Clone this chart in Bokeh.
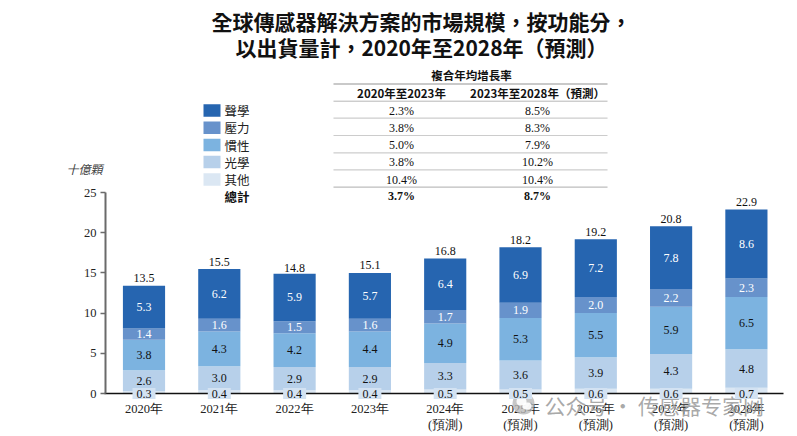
import numpy as np
from bokeh.plotting import figure
from bokeh.models import (ColumnDataSource, Range1d, LabelSet, Label,
                          BoxAnnotation, PolyAnnotation, FixedTicker)
from bokeh.core.properties import value
from bokeh.embed import file_html
from bokeh.resources import INLINE

# ---------------- data ----------------
years = ["2020年", "2021年", "2022年", "2023年", "2024年\n(預測)", "2025年\n(預測)",
         "2026年\n(預測)", "2027年\n(預測)", "2028年\n(預測)"]
acoustic = [5.3, 6.2, 5.9, 5.7, 6.4, 6.9, 7.2, 7.8, 8.6]
pressure = [1.4, 1.6, 1.5, 1.6, 1.7, 1.9, 2.0, 2.2, 2.3]
inertial = [3.8, 4.3, 4.2, 4.4, 4.9, 5.3, 5.5, 5.9, 6.5]
optical = [2.6, 3.0, 2.9, 2.9, 3.3, 3.6, 3.9, 4.3, 4.8]
others = [0.3, 0.4, 0.4, 0.4, 0.5, 0.5, 0.6, 0.6, 0.7]
totals = [13.5, 15.5, 14.8, 15.1, 16.8, 18.2, 19.2, 20.8, 22.9]

series_names = ["聲學", "壓力", "慣性", "光學", "其他"]
series_colors = ["#2665b0", "#6792cb", "#7cb3e0", "#b7d0ea", "#dbe7f3"]
total_name = "總計"

cagr_title = "複合年均增長率"
cagr_headers = ["2020年至2023年", "2023年至2028年（預測）"]
cagr_2020_2023 = ["2.3%", "3.8%", "5.0%", "3.8%", "10.4%"]
cagr_2023_2028 = ["8.5%", "8.3%", "7.9%", "10.2%", "10.4%"]
cagr_total = ["3.7%", "8.7%"]

y_ticks = [0, 5, 10, 15, 20, 25]
y_unit = "十億顆"
title_lines = ["全球傳感器解決方案的市場規模，按功能分，", "以出貨量計，2020年至2028年（預測）"]
watermark = "公众号 · 传感器专家网"

# ---------------- geometry ----------------
W, H = 797, 436
X0_PAGE, PX_PER_X = 143.5, 75.3      # centre of first bar, spacing
Y0_PAGE, PX_PER_Y = 393.0, 8.04      # baseline, pixels per billion


def dx(page_x):
    return (page_x - X0_PAGE) / PX_PER_X


def dy(page_y):
    return (Y0_PAGE - page_y) / PX_PER_Y


p = figure(width=W, height=H, x_range=Range1d(dx(0), dx(W)), y_range=Range1d(dy(H), dy(0)),
           output_backend="svg", toolbar_location=None,
           min_border_left=0, min_border_right=0, min_border_top=0, min_border_bottom=0)
p.outline_line_color = None
p.grid.grid_line_color = None
p.background_fill_color = "white"
p.border_fill_color = "white"

xs = list(range(len(years)))
src = ColumnDataSource(dict(x=xs, acoustic=acoustic, pressure=pressure,
                            inertial=inertial, optical=optical, others=others, totals=totals))
stack_keys = ["others", "optical", "inertial", "pressure", "acoustic"]
stack_colors = [series_colors[4], series_colors[3], series_colors[2], series_colors[1], series_colors[0]]
p.vbar_stack(stack_keys, x="x", width=0.56, color=stack_colors, line_color=None, source=src)

# ---------------- axes ----------------
NUMFONT = "Liberation Serif"
p.yaxis.fixed_location = dx(105)
p.yaxis.bounds = (0, 25)
p.yaxis.ticker = FixedTicker(ticks=y_ticks)
p.yaxis.minor_tick_line_color = None
p.yaxis.major_tick_out = 5
p.yaxis.major_tick_in = 0
p.yaxis.axis_line_color = "#6a6a6a"
p.yaxis.axis_line_width = 2
p.yaxis.major_tick_line_color = "#6a6a6a"
p.yaxis.major_tick_line_width = 1.5
p.yaxis.major_label_text_font = NUMFONT
p.yaxis.major_label_text_font_size = "12.5px"
p.yaxis.major_label_text_color = "#222222"
p.yaxis.major_label_standoff = 4

p.xaxis.fixed_location = 0
p.xaxis.bounds = (dx(104), dx(783))
p.xaxis.ticker = FixedTicker(ticks=xs)
p.xaxis.major_label_overrides = {i: years[i] for i in xs}
p.xaxis.axis_line_color = "#111111"
p.xaxis.axis_line_width = 1.5
p.xaxis.major_tick_line_color = None
p.xaxis.minor_tick_line_color = None
p.xaxis.major_label_text_font = NUMFONT
p.xaxis.major_label_text_font_size = "12.5px"
p.xaxis.major_label_text_color = "#222222"
p.xaxis.major_label_standoff = 2

# ---------------- value labels ----------------
stack_vals = [others, optical, inertial, pressure, acoustic]
text_cols = ["#111111", "#111111", "#111111", "white", "white"]
base = np.zeros(len(years))
for i, vals in enumerate(stack_vals):
    v = np.array(vals)
    if i == 0:
        mid = np.zeros(len(years))
        # light label boxes for the thin "其他" segment, drawn above the axis line
        box = p.rect(x=xs, y=mid, width=23, height=11, width_units="screen",
                     height_units="screen", fill_color="#d3e2f2", line_color=None)
        box.level = "overlay"
    else:
        mid = base + v / 2
    base = base + v
    ls_src = ColumnDataSource(dict(x=xs, y=mid, t=["%.1f" % a for a in vals]))
    lab = LabelSet(x="x", y="y", text="t", source=ls_src, text_align="center",
                   text_baseline="middle", text_font=value(NUMFONT),
                   text_font_size="12px", text_color=text_cols[i])
    if i == 0:
        lab.level = "overlay"
    p.add_layout(lab)

tot_src = ColumnDataSource(dict(x=xs, y=totals, t=["%.1f" % a for a in totals]))
p.add_layout(LabelSet(x="x", y="y", text="t", source=tot_src, text_align="center",
                      text_baseline="bottom", y_offset=3, text_font=value(NUMFONT),
                      text_font_size="12px", text_color="#111111"))


# ---------------- decorations (canvas units: pixels from top-left) ----------------
def add_label(text, x, y, size, align="center", bold=False, font="Noto Sans CJK TC",
              color="#111111", italic=False, baseline="middle", alpha=1.0):
    style = "normal"
    if bold and italic:
        style = "bold italic"
    elif bold:
        style = "bold"
    elif italic:
        style = "italic"
    p.add_layout(Label(x=x, y=y, x_units="canvas", y_units="canvas", text=text,
                       text_font=font, text_font_size=size, text_font_style=style,
                       text_align=align, text_baseline=baseline, text_color=color,
                       text_alpha=alpha))


def add_hline(x0, x1, y, color="#111111", width=1.0):
    p.add_layout(PolyAnnotation(xs=[x0, x1], ys=[y, y], xs_units="canvas",
                                ys_units="canvas", line_color=color, line_width=width,
                                fill_alpha=0))


def add_box(l, r, t, b, color, radius=0, alpha=1.0):
    p.add_layout(BoxAnnotation(left=l, right=r, top=t, bottom=b,
                               left_units="canvas", right_units="canvas",
                               top_units="canvas", bottom_units="canvas",
                               fill_color=color, fill_alpha=alpha, line_color=None,
                               border_radius=radius))


# title
add_label(title_lines[0], 421, 20, "21px", bold=True)
add_label(title_lines[1], 421, 46, "21px", bold=True)

# y unit
add_label(y_unit, 66, 168, "12px", align="left", italic=True, color="#444444")

# table
row_y = [110, 127.3, 144.5, 161.5, 179]
total_y = 195.5
col_x = [401, 537]
add_label(cagr_title, 471, 74, "11.5px", bold=True)
add_hline(333, 607, 83.5, width=1.5)
add_label(cagr_headers[0], col_x[0], 92.3, "11.5px", bold=True)
add_label(cagr_headers[1], col_x[1], 92.3, "11.5px", bold=True)
add_hline(333, 607, 100.7, width=1.0)
for k, yy in enumerate(row_y):
    add_label(cagr_2020_2023[k], col_x[0], yy, "12px", font=NUMFONT)
    add_label(cagr_2023_2028[k], col_x[1], yy, "12px", font=NUMFONT)
for yy in [117.7, 135, 152.3, 169.3]:
    add_hline(333, 607, yy, color="#555555", width=1.2)
add_hline(333, 607, 186.7, color="#222222", width=1.3)
add_label(cagr_total[0], col_x[0], total_y, "12px", font=NUMFONT, bold=True)
add_label(cagr_total[1], col_x[1], total_y, "12px", font=NUMFONT, bold=True)

# legend
for k, yy in enumerate(row_y):
    add_box(203, 220, yy - 6.3, yy + 6.3, series_colors[k])
    add_label(series_names[k], 224, yy, "12.5px", align="left", color="#222222")
add_label(total_name, 224, total_y, "12.5px", align="left", bold=True)

# watermark (icon + text)
add_box(512, 534, 392, 414, "#b4b4b4", radius=11, alpha=0.75)
add_box(516, 526, 397, 405, "white", radius=4, alpha=0.9)
add_box(522, 531, 402, 409, "white", radius=4, alpha=0.9)
add_label(watermark, 544, 404, "21px", align="left", font="Noto Sans CJK SC",
          color="#9a9a9a", alpha=0.85)

open("out.html", "w").write(file_html(p, INLINE))
